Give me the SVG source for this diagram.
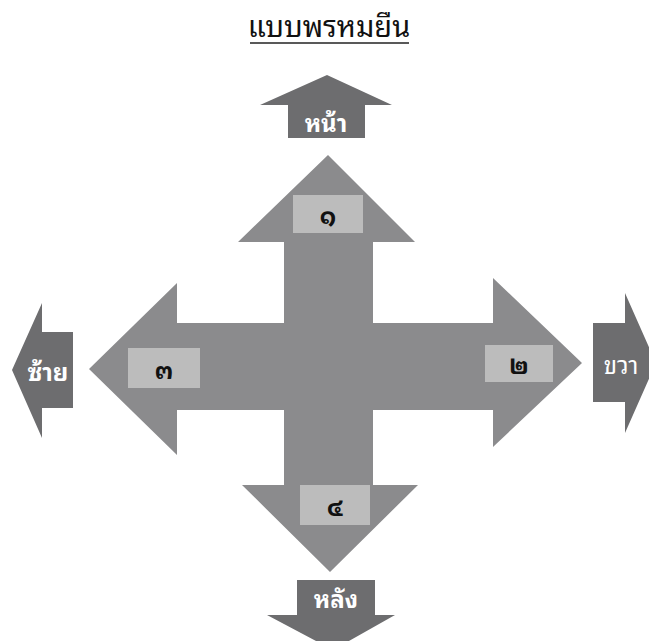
<svg xmlns="http://www.w3.org/2000/svg" width="649" height="641" viewBox="0 0 649 641">
<style>
.th{font-family:"Noto Sans Thai Looped","Loma","Garuda","Tahoma","Noto Serif Thai","Noto Sans Thai","Noto Sans","DejaVu Sans",sans-serif}
.title{font-size:29px;fill:#111;text-anchor:middle}
.num{font-size:24px;fill:#111;text-anchor:middle;dominant-baseline:central;font-weight:bold}
.dir{font-size:24px;font-weight:bold;fill:#fff;text-anchor:middle;dominant-baseline:central}
.cross{fill:#8b8b8d}
.box{fill:#bcbcbc}
.small{fill:#6d6d6f}
</style>
<rect width="649" height="641" fill="#fff"/>
<g id="title">
<text class="th title" x="329" y="37">แบบพรหมยืน</text>
<line x1="250" y1="43" x2="409" y2="43" stroke="#222" stroke-width="1.6"/>
</g>
<g id="cross">
<polygon class="cross" points="328,155 415,242 373,242 373,323 493,323 493,278 582,363 493,447 493,410 373,410 373,485 418,485 330,572 242,485 284,485 284,410 177,410 177,455 89,369 177,283 177,323 284,323 284,242 238,242"/>
</g>
<g id="n1"><rect class="box" x="293" y="195" width="70" height="38"/><text class="th num" x="328" y="214">๑</text></g>
<g id="n2"><rect class="box" x="485" y="345" width="68" height="37"/><text class="th num" x="519" y="363">๒</text></g>
<g id="n3"><rect class="box" x="128" y="348" width="72" height="40"/><text class="th num" x="164" y="368">๓</text></g>
<g id="n4"><rect class="box" x="300" y="485" width="70" height="40"/><text class="th num" x="335" y="505">๔</text></g>
<g id="front">
<polygon class="small" points="327,75 392,105 365,105 365,138 288,138 288,105 260,105"/>
<text class="th dir" x="326" y="121">หน้า</text>
</g>
<g id="left">
<polygon class="small" points="12,370 42,303 42,332 73,332 73,408 42,408 42,438"/>
<text class="th dir" x="48" y="370">ซ้าย</text>
</g>
<g id="right">
<polygon class="small" points="593,323 625,323 625,293 656,363 625,433 625,402 593,402"/>
<text class="th dir" x="621" y="363" style="font-weight:normal">ขวา</text>
</g>
<g id="back">
<polygon class="small" points="297,580 375,580 375,615 395,615 333,650 267,615 297,615"/>
<text class="th dir" x="336" y="597">หลัง</text>
</g>
<g id="connectors"></g>
</svg>
